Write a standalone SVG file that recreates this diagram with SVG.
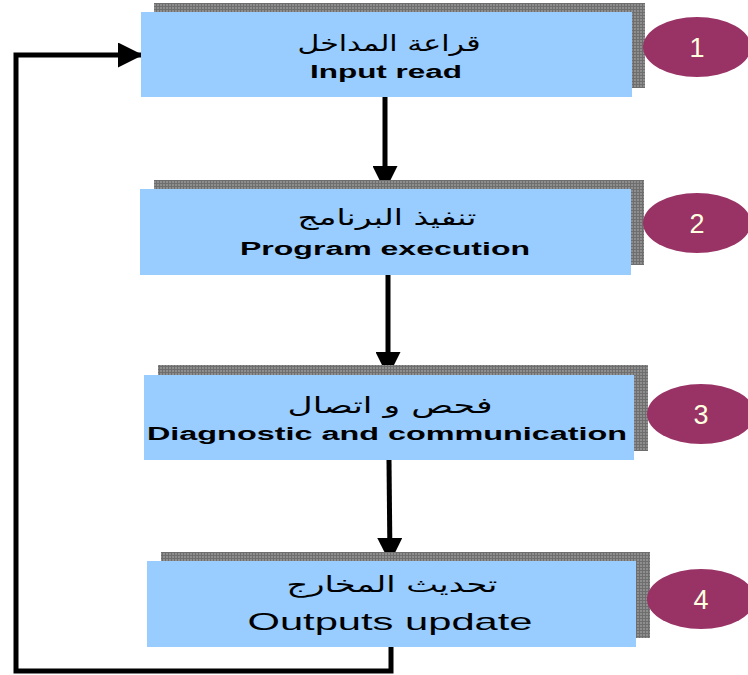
<svg xmlns="http://www.w3.org/2000/svg" width="748" height="675" viewBox="0 0 748 675">
<style>
.box{fill:#99CCFF}
.sh{fill:url(#grid)}
.num{fill:#993366}
.nt{font-family:"Liberation Sans",Arial,sans-serif;font-size:27px;fill:#FFFFE0;text-anchor:middle}
.ar{font-family:"DejaVu Sans",sans-serif;font-size:22px;fill:#000;text-anchor:middle}
.en{font-family:"Liberation Sans",Arial,sans-serif;font-size:18px;font-weight:bold;fill:#000;text-anchor:middle}
.en2{font-family:"Liberation Sans",Arial,sans-serif;font-size:24px;fill:#000;text-anchor:middle}
.ln{fill:none;stroke:#000;stroke-width:5}
</style>
<defs>
<pattern id="grid" width="3" height="3" patternUnits="userSpaceOnUse">
<rect width="3" height="3" fill="#8e8e8e"/>
<rect width="1" height="3" fill="#6e6e6e"/>
<rect width="3" height="1" fill="#6e6e6e"/>
</pattern>
<marker id="ah" markerWidth="5" markerHeight="5" refX="4.6" refY="2.5" orient="auto" markerUnits="strokeWidth">
<path d="M0,0 L5,2.5 L0,5 Z" fill="#000"/>
</marker>
</defs>
<rect width="748" height="675" fill="#fff"/>

<g id="connectors">
<line class="ln" x1="385" y1="97" x2="385" y2="189" marker-end="url(#ah)"/>
<line class="ln" x1="388" y1="275" x2="388" y2="375" marker-end="url(#ah)"/>
<line class="ln" x1="389" y1="460" x2="390" y2="561" marker-end="url(#ah)"/>
<polyline class="ln" points="391,647 391,671 16,671 16,55 141,55" marker-end="url(#ah)"/>
</g>

<g id="node1">
<rect class="sh" x="154" y="3" width="491" height="85"/>
<rect class="box" x="141" y="12" width="491" height="85"/>
<text class="ar" x="389" y="51" textLength="183" lengthAdjust="spacingAndGlyphs">قراعة المداخل</text>
<text class="en" x="386" y="78" textLength="152" lengthAdjust="spacingAndGlyphs">Input read</text>
</g>
<g id="badge1">
<ellipse class="num" cx="697" cy="47" rx="54" ry="30"/>
<text class="nt" x="697" y="57">1</text>
</g>

<g id="node2">
<rect class="sh" x="154" y="180" width="490" height="85"/>
<rect class="box" x="140" y="189" width="491" height="86"/>
<text class="ar" x="387" y="225" textLength="179" lengthAdjust="spacingAndGlyphs">تنفيذ البرنامج</text>
<text class="en" x="385" y="255" textLength="290" lengthAdjust="spacingAndGlyphs">Program execution</text>
</g>
<g id="badge2">
<ellipse class="num" cx="697" cy="223" rx="54" ry="30"/>
<text class="nt" x="697" y="233">2</text>
</g>

<g id="node3">
<rect class="sh" x="158" y="365" width="490" height="86"/>
<rect class="box" x="144" y="375" width="490" height="85"/>
<text class="ar" x="390" y="413" textLength="205" lengthAdjust="spacingAndGlyphs">فحص و اتصال</text>
<text class="en" x="387" y="440" textLength="480" lengthAdjust="spacingAndGlyphs">Diagnostic and communication</text>
</g>
<g id="badge3">
<ellipse class="num" cx="701" cy="414" rx="54" ry="30"/>
<text class="nt" x="701" y="424">3</text>
</g>

<g id="node4">
<rect class="sh" x="161" y="552" width="489" height="86"/>
<rect class="box" x="147" y="561" width="489" height="86"/>
<text class="ar" x="392" y="592" textLength="211" lengthAdjust="spacingAndGlyphs">تحديث المخارج</text>
<text class="en2" x="390" y="630" textLength="285" lengthAdjust="spacingAndGlyphs">Outputs update</text>
</g>
<g id="badge4">
<ellipse class="num" cx="701" cy="599" rx="54" ry="30"/>
<text class="nt" x="701" y="609">4</text>
</g>
</svg>
